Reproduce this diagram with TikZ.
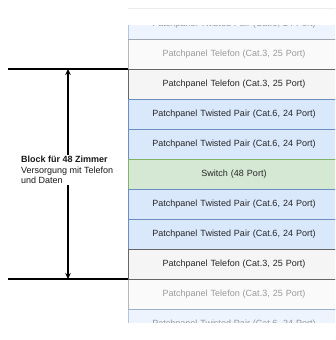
\documentclass[tikz,border=0pt]{standalone}
\usepackage{fontspec}
\setmainfont{Liberation Sans}
\usetikzlibrary{arrows.meta}
\definecolor{tpfill}{HTML}{DAE8FC}
\definecolor{tpdraw}{HTML}{6C8EBF}
\definecolor{telfill}{HTML}{F5F5F5}
\definecolor{teldraw}{HTML}{666666}
\definecolor{swfill}{HTML}{D5E8D4}
\definecolor{swdraw}{HTML}{82B366}
\begin{document}
\begin{tikzpicture}[x=1pt,y=-1pt,
  slot/.style={minimum width=212pt, minimum height=30pt, anchor=north west,
    inner sep=0pt, outer sep=0pt, line width=0.8pt, text=black!85,
    font=\fontsize{9}{10.5}\selectfont, text width=207pt, align=center},
  tp/.style={slot, fill=tpfill, draw=tpdraw},
  tel/.style={slot, fill=telfill, draw=teldraw},
  sw/.style={slot, fill=swfill, draw=swdraw},
  faded/.style={opacity=0.45},
  rule/.style={line width=1.3pt, black},
  dim/.style={line width=1.3pt, black, {Stealth[length=6pt,width=5.5pt]}-{Stealth[length=6pt,width=5.5pt]}},
  cover/.style={fill=white, draw=none}
]
\clip (0,0) rectangle (335,340);
\fill[white] (0,0) rectangle (335,340);
% faded slots
\node[tp, faded]  (f1) at (128,9)   {Patchpanel Twisted Pair (Cat.6, 24 Port)};
\node[tel, faded] (f2) at (128,39)  {Patchpanel Telefon (Cat.3, 25 Port)};
\node[tel, faded] (f3) at (128,279) {Patchpanel Telefon (Cat.3, 25 Port)};
\node[tp, faded]  (f4) at (128,309) {Patchpanel Twisted Pair (Cat.6, 24 Port)};
% covers
\fill[white] (128,8) rectangle (340,25);
\draw[black!8, line width=0.6pt] (128,8) -- (340,8);
\fill[white] (126,323) rectangle (340,341);
% main slots
\node[tel] (s1) at (128,69)  {Patchpanel Telefon (Cat.3, 25 Port)};
\node[tp]  (s2) at (128,99)  {Patchpanel Twisted Pair (Cat.6, 24 Port)};
\node[tp]  (s3) at (128,129) {Patchpanel Twisted Pair (Cat.6, 24 Port)};
\node[sw]  (s4) at (128,159) {Switch (48 Port)};
\node[tp]  (s5) at (128,189) {Patchpanel Twisted Pair (Cat.6, 24 Port)};
\node[tp]  (s6) at (128,219) {Patchpanel Twisted Pair (Cat.6, 24 Port)};
\node[tel] (s7) at (128,249) {Patchpanel Telefon (Cat.3, 25 Port)};
% rules
\coordinate (tl) at (8,69);
\coordinate (bl) at (8,279);
\coordinate (at) at (68,69);
\coordinate (ab) at (68,279);
\draw[rule] (tl) -- (s1.north west);
\draw[rule] (bl) -- (s7.south west);
\draw[dim] (at) -- (ab);
\node[cover, anchor=west, align=left, inner xsep=0pt, inner ysep=1pt,
  font=\fontsize{9}{10.5}\selectfont, text=black!90] (lbl) at (21,170)
  {\textbf{Block für 48 Zimmer}\\Versorgung mit Telefon\\und Daten};
\end{tikzpicture}
\end{document}
